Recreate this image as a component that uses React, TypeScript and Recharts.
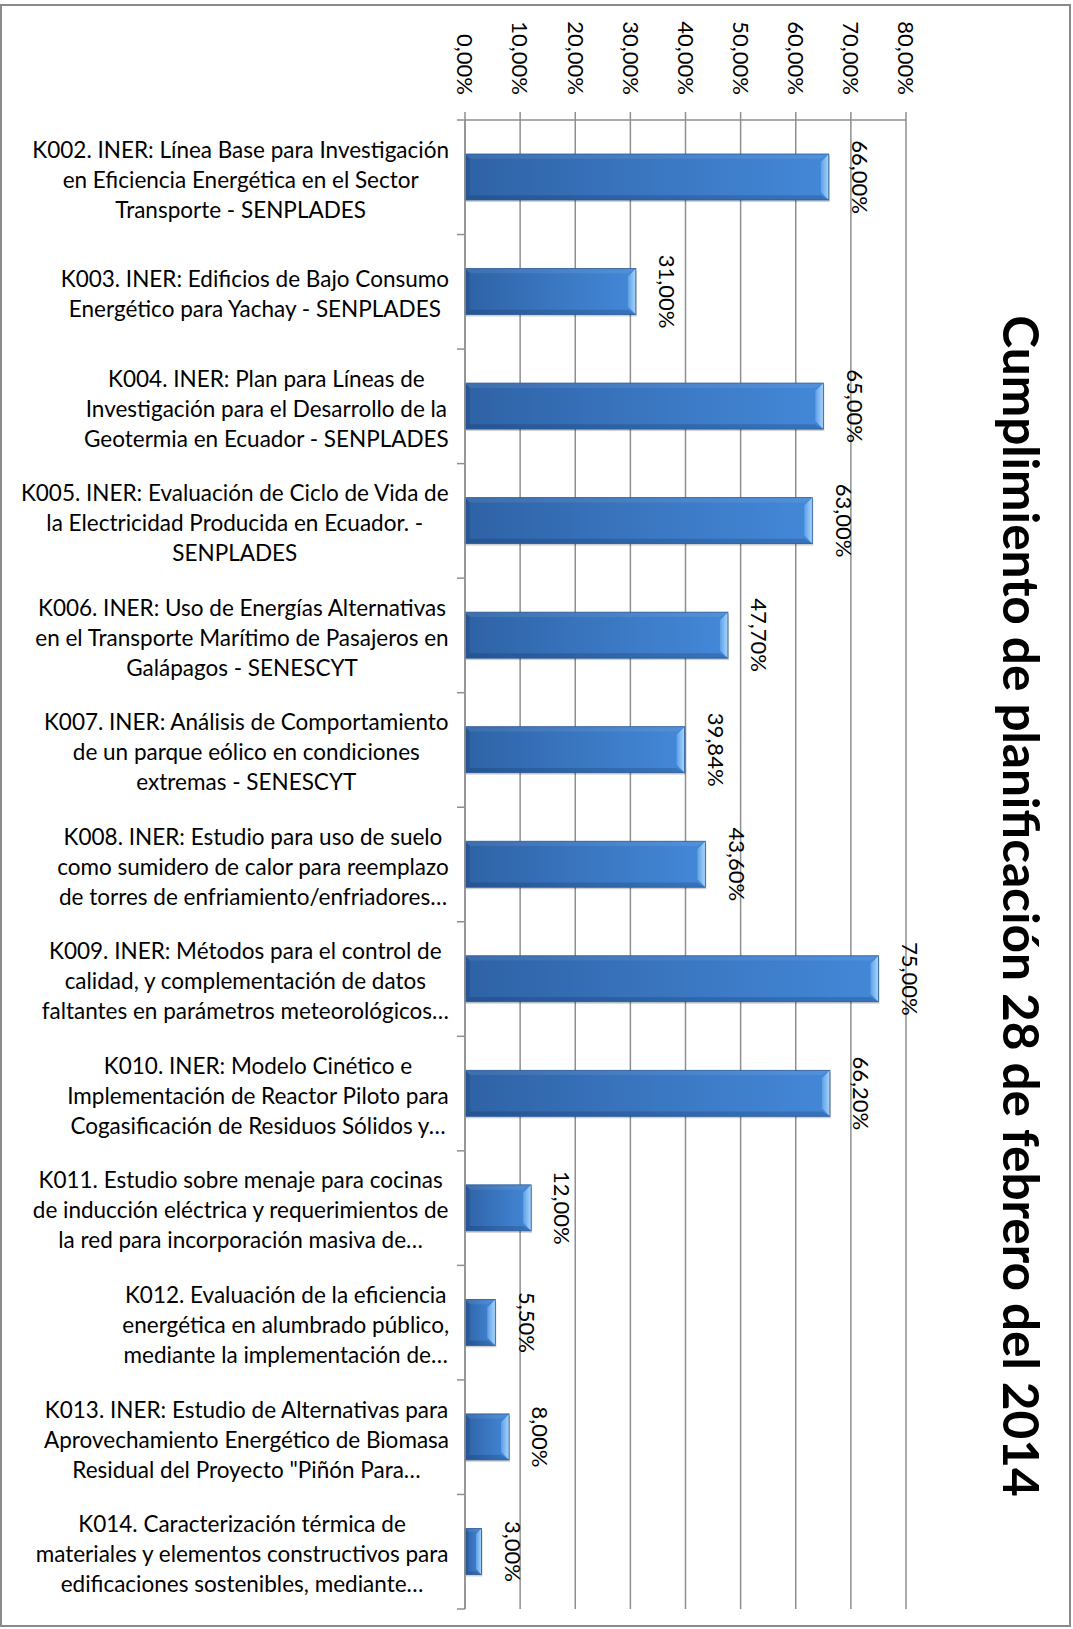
import React from 'react';
import { BarChart, Bar, XAxis, YAxis, CartesianGrid, LabelList } from 'recharts';

const categories: string[] = [
  'K002. INER: Línea Base para Investigación\nen Eficiencia Energética en el Sector\nTransporte - SENPLADES',
  'K003. INER: Edificios de Bajo Consumo\nEnergético para Yachay - SENPLADES',
  'K004. INER: Plan para Líneas de\nInvestigación para el Desarrollo de la\nGeotermia en Ecuador - SENPLADES',
  'K005. INER: Evaluación de Ciclo de Vida de\nla Electricidad Producida en Ecuador. -\nSENPLADES',
  'K006. INER: Uso de Energías Alternativas\nen el Transporte Marítimo de Pasajeros en\nGalápagos - SENESCYT',
  'K007. INER: Análisis de Comportamiento\nde un parque eólico en condiciones\nextremas - SENESCYT',
  'K008. INER: Estudio para uso de suelo\ncomo sumidero de calor para reemplazo\nde torres de enfriamiento/enfriadores…',
  'K009. INER: Métodos para el control de\ncalidad, y complementación de datos\nfaltantes en parámetros meteorológicos…',
  'K010. INER: Modelo Cinético e\nImplementación de Reactor Piloto para\nCogasificación de Residuos Sólidos y…',
  'K011. Estudio sobre menaje para cocinas\nde inducción eléctrica y requerimientos de\nla red para incorporación masiva de…',
  'K012. Evaluación de la eficiencia\nenergética en alumbrado público,\nmediante la implementación de…',
  'K013. INER: Estudio de Alternativas para\nAprovechamiento Energético de Biomasa\nResidual del Proyecto "Piñón Para…',
  'K014. Caracterización térmica de\nmateriales y elementos constructivos para\nedificaciones sostenibles, mediante…',
];

const values: number[] = [66, 31, 65, 63, 47.7, 39.84, 43.6, 75, 66.2, 12, 5.5, 8, 3];

const xTicks: number[] = [0, 10, 20, 30, 40, 50, 60, 70, 80];

const title = 'Cumplimiento de planificación 28 de febrero del 2014';

const data = categories.map((name, i) => ({ name, value: values[i] }));

const W = 1073;
const H = 1629;
const FONT = 'Lato, "Noto Sans", sans-serif';
const X_AXIS_H = 100;
const MARGIN = { top: 20, right: 167, bottom: 20, left: 0 };
const Y_AXIS_W = 465;
const AXIS_X = MARGIN.left + Y_AXIS_W;
const PLOT_TOP = MARGIN.top + X_AXIS_H;
const PLOT_BOTTOM = H - MARGIN.bottom;
const BAND = (PLOT_BOTTOM - PLOT_TOP) / categories.length;
const LABEL_RIGHT = 449;
const CAT_FS = 22.5;
const LINE_H = 30;
const TICK_FS = 22;
const GRID = '#8f8f8f';

const fmt = (v: number) => v.toFixed(2).replace('.', ',') + '%';

let ctx: CanvasRenderingContext2D | null = null;
function measure(text: string, font: string): number {
  if (!ctx) ctx = document.createElement('canvas').getContext('2d');
  if (!ctx) return text.length * 10;
  ctx.font = font;
  return ctx.measureText(text).width;
}

const CategoryTick = (props: any) => {
  const { y, payload, index } = props;
  const lines = String(payload.value).split('\n');
  const maxW = Math.max(...lines.map((l) => measure(l, `${CAT_FS}px ${FONT}`)));
  const cx = LABEL_RIGHT - maxW / 2;
  const n = lines.length;
  const top = y - BAND / 2;
  return (
    <g>
      <line x1={AXIS_X - 8} x2={AXIS_X} y1={top} y2={top} stroke={GRID} strokeWidth={1.5} />
      {index === categories.length - 1 && (
        <line x1={AXIS_X - 8} x2={AXIS_X} y1={top + BAND} y2={top + BAND} stroke={GRID} strokeWidth={1.5} />
      )}
      <text textAnchor="middle" fontSize={CAT_FS} fontFamily={FONT} fill="#000">
        {lines.map((l, i) => (
          <tspan key={i} x={cx} y={y + 2.5 + (i - (n - 1) / 2) * LINE_H} dy="0.35em">
            {l}
          </tspan>
        ))}
      </text>
    </g>
  );
};

const ValueTick = (props: any) => {
  const { x, payload } = props;
  const ay = PLOT_TOP - 25;
  return (
    <text
      x={x}
      y={ay}
      dy="0.35em"
      transform={`rotate(90, ${x}, ${ay})`}
      textAnchor="end"
      fontSize={TICK_FS}
      fontFamily={FONT}
      fill="#000"
    >
      {fmt(payload.value)}
    </text>
  );
};

const BarLabel = (props: any) => {
  const { x, y, width, height, value } = props;
  const lx = x + width + 31;
  const ly = y + height / 2;
  return (
    <text
      x={lx}
      y={ly}
      dy="0.35em"
      transform={`rotate(90, ${lx}, ${ly})`}
      textAnchor="middle"
      fontSize={TICK_FS}
      fontFamily={FONT}
      fill="#000"
    >
      {fmt(Number(value))}
    </text>
  );
};

const BevelBar = (props: any) => {
  const { x, y, width, height } = props;
  if (!width || width <= 0) return null;
  const b = Math.min(8, width / 3);
  const r = x + width;
  const btm = y + height;
  return (
    <g>
      <rect x={x + 1} y={y + 2} width={width} height={height} fill="rgba(0,0,0,0.18)" />
      <rect x={x} y={y} width={width} height={height} fill="url(#bodyGrad)" />
      <polygon
        points={`${x},${y} ${r},${y} ${r - b},${y + b * 0.6} ${x + b * 0.6},${y + b * 0.6}`}
        fill="rgba(255,255,255,0.08)"
      />
      <polygon
        points={`${x},${btm} ${r},${btm} ${r - b},${btm - b * 0.6} ${x + b * 0.6},${btm - b * 0.6}`}
        fill="rgba(0,20,60,0.18)"
      />
      <polygon
        points={`${x},${y} ${x + b * 0.6},${y + b * 0.6} ${x + b * 0.6},${btm - b * 0.6} ${x},${btm}`}
        fill="rgba(0,20,60,0.15)"
      />
      <polygon points={`${r - b},${y + b} ${r},${y} ${r},${btm} ${r - b},${btm - b}`} fill="url(#faceGrad)" />
      <rect x={x} y={y} width={width} height={height} fill="none" stroke="#2a5a97" strokeWidth={0.8} />
    </g>
  );
};

export default function App() {
  return (
    <div style={{ position: 'absolute', left: 0, top: 0, width: W, height: H, background: '#fff' }}>
      <div
        style={{
          position: 'absolute',
          left: 0,
          top: 4,
          width: 1071,
          height: 1623,
          border: '2px solid #8a8a8a',
          boxSizing: 'border-box',
        }}
      />
      <div style={{ position: 'absolute', left: 0, top: 0 }}>
        <BarChart
          width={W}
          height={H}
          data={data}
          layout="vertical"
          margin={MARGIN}
          barSize={46}
        >
          <defs>
            <linearGradient id="bodyGrad" x1="0" y1="0" x2="1" y2="0">
              <stop offset="0%" stopColor="#2e62a5" />
              <stop offset="50%" stopColor="#3a76c0" />
              <stop offset="100%" stopColor="#4388d8" />
            </linearGradient>
            <linearGradient id="faceGrad" x1="0" y1="0" x2="1" y2="0">
              <stop offset="0%" stopColor="#5e9fe6" />
              <stop offset="100%" stopColor="#a9d6fc" />
            </linearGradient>
          </defs>
          <CartesianGrid horizontal={false} stroke={GRID} strokeWidth={1.5} />
          <XAxis
            type="number"
            orientation="top"
            domain={[0, 80]}
            ticks={xTicks}
            interval={0}
            height={X_AXIS_H}
            tickSize={8}
            axisLine={{ stroke: GRID, strokeWidth: 1.5 }}
            tickLine={{ stroke: GRID, strokeWidth: 1.5 }}
            tick={<ValueTick />}
          />
          <YAxis
            type="category"
            dataKey="name"
            width={Y_AXIS_W}
            interval={0}
            tickLine={false}
            axisLine={{ stroke: GRID, strokeWidth: 1.5 }}
            tick={<CategoryTick />}
          />
          <Bar dataKey="value" isAnimationActive={false} shape={<BevelBar />}>
            <LabelList dataKey="value" content={<BarLabel />} />
          </Bar>
          <text
            x={1003}
            y={906}
            transform={`rotate(90, 1003, 906)`}
            textAnchor="middle"
            fontSize={49.5}
            fontWeight="bold"
            fontFamily={FONT}
            fill="#000"
          >
            {title}
          </text>
        </BarChart>
      </div>
    </div>
  );
}
